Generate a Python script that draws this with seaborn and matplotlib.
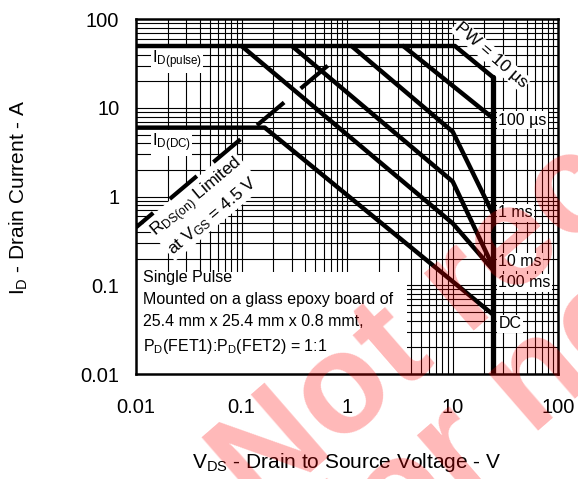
import numpy as np
import pandas as pd
import seaborn as sns
import matplotlib.pyplot as plt
from matplotlib.patches import Rectangle

# Safe operating area
vds_10us = [0.01, 10.5, 24]
id_10us = [50, 50, 22.3]
vds_100us = [3.4, 24]
id_100us = [50, 7.7]
vds_1ms = [1.1, 10, 24]
id_1ms = [50, 5.4, 0.64]
vds_10ms = [0.3, 10, 24]
id_10ms = [50, 1.48, 0.163]
vds_100ms = [0.1, 10, 24]
id_100ms = [50, 0.5, 0.15]
vds_dc = [0.01, 0.166, 24]
id_dc = [6, 6, 0.047]
vds_limit = [24, 24]
id_limit = [22.3, 0.01]
vds_rds = [0.01, 0.72]
id_rds = [0.45, 33]

tick_vals = [0.01, 0.1, 1, 10, 100]
tick_labels = ["0.01", "0.1", "1", "10", "100"]
pulse_labels = ["100 µs", "1 ms", "10 ms", "100 ms", "DC"]

sns.set_theme(style="white")
plt.rcParams["font.family"] = ["Liberation Sans", "DejaVu Sans"]
plt.rcParams["mathtext.default"] = "regular"
plt.rcParams["text.color"] = "black"
plt.rcParams["axes.labelcolor"] = "black"
plt.rcParams["xtick.color"] = "black"
plt.rcParams["ytick.color"] = "black"

fig = plt.figure(figsize=(5.78, 4.79), dpi=100)
ax = fig.add_axes([0.2353, 0.2192, 0.7306, 0.7405])
ax.set_xscale("log")
ax.set_yscale("log")
ax.set_xlim(0.01, 100)
ax.set_ylim(0.01, 100)

# log grid
grid_vals = [m * 10.0 ** e for e in range(-2, 2) for m in range(1, 10)]
ax.vlines(grid_vals, 0.01, 100, color="black", lw=0.8, zorder=0.6)
ax.hlines(grid_vals, 0.01, 100, color="black", lw=0.8, zorder=0.6)

# white area behind the note
ax.add_patch(Rectangle((0, 0), 0.642, 0.2876, transform=ax.transAxes,
                       facecolor="white", edgecolor="none", zorder=1))

curves = [(vds_10us, id_10us), (vds_100us, id_100us), (vds_1ms, id_1ms),
          (vds_10ms, id_10ms), (vds_100ms, id_100ms), (vds_dc, id_dc)]
for vx, iy in curves:
    df = pd.DataFrame({"vds": vx, "id": iy})
    sns.lineplot(data=df, x="vds", y="id", ax=ax, sort=False, estimator=None,
                 color="black", lw=3.2, zorder=3)

df = pd.DataFrame({"vds": vds_limit, "id": id_limit})
sns.lineplot(data=df, x="vds", y="id", ax=ax, sort=False, estimator=None,
             color="black", lw=3.8, zorder=3)

df = pd.DataFrame({"vds": vds_rds, "id": id_rds})
sns.lineplot(data=df, x="vds", y="id", ax=ax, sort=False, estimator=None,
             color="black", lw=3.0, zorder=3,
             linestyle=(3.1, (8.5, 5.2)), dash_capstyle="butt")

ax.set_xticks(tick_vals)
ax.set_xticklabels(tick_labels)
ax.set_yticks(tick_vals)
ax.set_yticklabels(tick_labels)
ax.set_axisbelow(False)
ax.tick_params(which="both", direction="in", top=False, right=False,
               color="black", width=0.8)
ax.tick_params(which="major", length=6)
ax.tick_params(which="minor", length=4)
ax.tick_params(axis="x", which="major", labelsize=14.5, pad=17)
ax.tick_params(axis="y", which="major", labelsize=14.5, pad=12)
for s in ax.spines.values():
    s.set_color("black")
    s.set_linewidth(1.8)

ax.set_xlabel("V$_{DS}$ - Drain to Source Voltage - V", fontsize=15)
ax.xaxis.set_label_coords(0.5, -0.217)
ax.set_ylabel("I$_{D}$ - Drain Current - A", fontsize=15)
ax.yaxis.set_label_coords(-0.252, 0.498)

box = dict(facecolor="white", edgecolor="none", pad=1)
ax.text(0.038, 0.885, "I$_{D(pulse)}$", transform=ax.transAxes, fontsize=12,
        va="center", bbox=box, zorder=2)
ax.text(0.038, 0.651, "I$_{D(DC)}$", transform=ax.transAxes, fontsize=12,
        va="center", bbox=box, zorder=2)
ax.text(0.162, 0.474, "R$_{DS(on)}$ Limited\nat V$_{GS}$ = 4.5 V",
        transform=ax.transAxes, fontsize=12.5, rotation=40, ha="center",
        va="center", rotation_mode="anchor", multialignment="center",
        bbox=box, zorder=2)
ax.text(0.84, 0.899, "PW = 10 µs", transform=ax.transAxes, fontsize=12.5,
        rotation=-41, ha="center", va="center", rotation_mode="anchor",
        bbox=box, zorder=2)
for lab, ypos in zip(pulse_labels, [0.716, 0.454, 0.316, 0.257, 0.141]):
    ax.text(0.858, ypos, lab, transform=ax.transAxes, fontsize=11.5,
            va="center", bbox=box, zorder=2)

ax.text(0.0166, 0.171,
        "Single Pulse\nMounted on a glass epoxy board of\n"
        "25.4 mm x 25.4 mm x 0.8 mmt,\nP$_{D}$(FET1):P$_{D}$(FET2) = 1:1",
        transform=ax.transAxes, fontsize=11.5, va="center", ha="left",
        linespacing=1.58, zorder=2)

# watermark
fig.text(0.449, -0.0785, "Not recommended", fontsize=102, fontweight="bold",
         color="red", alpha=0.28, rotation=41, rotation_mode="anchor",
         ha="left", va="baseline", zorder=10)
fig.text(0.621, -0.2236, "for new design", fontsize=102, fontweight="bold",
         color="red", alpha=0.28, rotation=41, rotation_mode="anchor",
         ha="left", va="baseline", zorder=10)

fig.savefig("out.png", dpi=100)
